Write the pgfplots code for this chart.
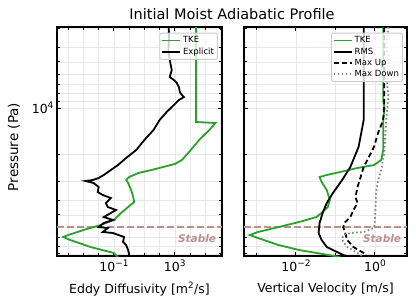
\documentclass[border=0pt]{standalone}
\usepackage{pgfplots}
\pgfplotsset{compat=1.18}
\usepackage{fontspec}
\setmainfont{DejaVu Sans}
\definecolor{tkegreen}{HTML}{2CA02C}
\definecolor{stablec}{HTML}{BC8F8F}
\definecolor{legframe}{HTML}{CCCCCC}
\pgfplotsset{
  legend image code/.code={\draw[line width=1.8pt,#1] (0pt,0pt) -- (18pt,0pt);},
}
\newcommand{\sups}[1]{\raisebox{0.42em}{\fontsize{9}{10}\selectfont #1}}
\begin{document}
\begin{tikzpicture}[x=1pt,y=1pt]
\path[use as bounding box] (0,0) rectangle (416,308);
\node[font=\fontsize{14.5}{16}\selectfont] at (232,294) {Initial Moist Adiabatic Profile};
\node[rotate=90, font=\fontsize{13.5}{15}\selectfont] at (14,161) {Pressure (Pa)};
\node[font=\fontsize{12.5}{14}\selectfont] at (139.5,19) {Eddy Diffusivity [m\textsuperscript{2}/s]};
\node[font=\fontsize{12.5}{14}\selectfont] at (325.5,19) {Vertical Velocity [m/s]};

\begin{axis}[at={(57pt,52pt)}, anchor=south west, width=165pt,
  xmode=log, ymode=log, y dir=reverse,
  scale only axis, height=229pt,
  ymin=2955, ymax=92770,
  axis line style={line width=2.6pt},
  every tick/.style={black, line width=1pt},
  major tick length=4.5pt, minor tick length=2.8pt,
  tick align=inside, xtick pos=both, ytick pos=both,
  grid=both,
  major grid style={gray!18, line width=0.6pt},
  minor grid style={gray!18, line width=0.6pt},
  ytick={10000},
  minor ytick={3000,4000,5000,6000,7000,8000,9000,20000,30000,40000,50000,60000,70000,80000,90000},
  tick label style={font=\fontsize{12.5}{14}\selectfont},
  legend cell align=left,
  legend style={at={(0.975,0.975)}, anchor=north east, font=\fontsize{8.5}{10}\selectfont,
    draw=legframe, line width=0.9pt, fill=white, fill opacity=0.8, text opacity=1,
    rounded corners=2pt, inner sep=1.5pt, row sep=-0.5pt},
  xmin=1.82e-5, xmax=1.26e6,
  xtick={0.1,1000}, xticklabels={10\sups{−1},10\sups{3}},
  minor xtick={1e-4,1e-3,1e-2,1,10,100,1e4,1e5,1e6},
  yticklabels={10\sups{4}},
]
\addplot[stablec, line width=1.6pt, dash pattern=on 7pt off 3pt, forget plot] coordinates {(1.82e-5,60000) (1.26e6,60000)};
\addplot[tkegreen, line width=1.8pt] coordinates {
(25100,2955) (25100,12346) (4.64e5,12531) (1.85e5,13925) (39800,16191) (8580,19395)
(2930,21874) (1000,23227) (29.3,25420) (3.98,26600) (1.0,28250) (0.631,29560)
(0.858,30920) (1.36,34360) (1.85,38180) (2.15,41150) (0.858,44370) (0.293,48570)
(0.1,53950) (0.0136,58190) (1e-3,62720) (1e-4,67640) (4.64e-5,69680) (1.36e-4,72910)
(2.93e-3,81030) (0.1,88640) (0.185,94170)};
\addlegendentry{TKE}
\addplot[black, line width=1.8pt] coordinates {
(398,2955) (420,3500) (380,4200) (464,4855) (631,5645) (464,6272) (858,6561) (1360,6864)
(1850,7291) (2150,7860) (2930,8222) (3980,8475) (1850,8866) (858,9559) (293,10620)
(100,11978) (39.8,13925) (10,16191) (2.93,18819) (0.631,21222) (0.185,23580)
(0.0631,25420) (0.0215,27410) (0.01,28680) (3.98e-3,29560) (1.36e-3,30000)
(4.64e-3,30920) (0.01,32850) (8.58e-3,35400) (0.0185,37050) (0.0631,38760)
(0.0293,41770) (0.0398,44370) (0.136,46420) (0.0631,48570) (0.0215,51580)
(0.0858,53950) (0.0215,56460) (0.01,59980) (0.0398,60890) (0.0185,64650)
(0.0858,65620) (0.464,69680) (0.398,75140) (0.631,78620) (0.858,84760) (1.0,91380) (0.8,93000)};
\addlegendentry{Explicit}
\node[anchor=east, text=stablec, font=\fontsize{10.5}{12}\selectfont\bfseries\itshape] at (axis description cs:0.985,0.078) {Stable};
\end{axis}

\begin{axis}[at={(244pt,52pt)}, anchor=south west, width=163pt,
  xmode=log, ymode=log, y dir=reverse,
  scale only axis, height=229pt,
  ymin=2955, ymax=92770,
  axis line style={line width=2.6pt},
  every tick/.style={black, line width=1pt},
  major tick length=4.5pt, minor tick length=2.8pt,
  tick align=inside, xtick pos=both, ytick pos=both,
  grid=both,
  major grid style={gray!18, line width=0.6pt},
  minor grid style={gray!18, line width=0.6pt},
  ytick={10000},
  minor ytick={3000,4000,5000,6000,7000,8000,9000,20000,30000,40000,50000,60000,70000,80000,90000},
  tick label style={font=\fontsize{12.5}{14}\selectfont},
  legend cell align=left,
  legend style={at={(0.975,0.975)}, anchor=north east, font=\fontsize{8.5}{10}\selectfont,
    draw=legframe, line width=0.9pt, fill=white, fill opacity=0.8, text opacity=1,
    rounded corners=2pt, inner sep=1.5pt, row sep=-0.5pt},
  xmin=4.83e-4, xmax=6.46,
  xtick={0.01,1}, xticklabels={10\sups{−2},10\sups{0}},
  minor xtick={1e-3,0.1},
  yticklabels={},
]
\addplot[stablec, line width=1.6pt, dash pattern=on 7pt off 3pt, forget plot] coordinates {(4.83e-4,60000) (6.46,60000)};
\addplot[tkegreen, line width=1.8pt] coordinates {
(1.614,2955) (1.614,9000) (1.75,10000) (1.614,11978) (1.614,18819) (1.432,21874) (0.942,23580)
(0.362,24660) (0.1309,26200) (0.0601,27410) (0.0396,28250) (0.0446,30460)
(0.0601,34360) (0.0720,39930) (0.0638,44370) (0.0473,47840) (0.0331,51580)
(0.01197,55630) (3.62e-3,59980) (1.09e-3,64650) (6.78e-4,67640) (1.09e-3,70740)
(3.62e-3,78620) (0.01197,84760) (0.0331,88640) (0.1309,94170)};
\addlegendentry{TKE}
\addplot[black, line width=1.8pt] coordinates {
(0.518,2955) (0.518,7291) (0.518,11978) (0.384,17982) (0.238,24300) (0.1475,29560)
(0.0861,35940) (0.0601,41770) (0.0473,48570) (0.0396,56460) (0.0373,65620)
(0.0446,72910) (0.0601,81030) (0.1094,87360) (0.1566,91380) (0.238,94170)};
\addlegendentry{RMS}
\addplot[black, line width=1.8pt, dash pattern=on 5pt off 3pt] coordinates {
(1.713,2955) (1.713,7291) (1.713,9275) (1.614,11978) (1.197,14568) (0.942,17982)
(0.699,20905) (0.518,24300) (0.433,28250) (0.362,32850) (0.321,38180) (0.362,41770)
(0.285,46420) (0.238,51580) (0.1765,55630) (0.1566,59980) (0.1765,65620)
(0.199,72910) (0.285,81030) (0.518,88640) (0.658,94170)};
\addlegendentry{Max Up}
\addplot[gray, line width=1.8pt, dash pattern=on 1.5pt off 2.5pt] coordinates {
(2.18,2955) (1.9,4000) (2.3,5000) (2.0,6500) (2.18,8475) (1.93,11978) (1.713,19688)
(1.432,25420) (1.197,29560) (1.062,35940) (1.0,53950) (0.942,60890) (0.518,64650)
(0.238,65620) (0.1566,67640) (0.1475,72910) (0.199,81030) (0.362,88640) (0.518,94170)};
\addlegendentry{Max Down}
\node[anchor=east, text=stablec, font=\fontsize{10.5}{12}\selectfont\bfseries\itshape] at (axis description cs:0.985,0.078) {Stable};
\end{axis}
\end{tikzpicture}
\end{document}
